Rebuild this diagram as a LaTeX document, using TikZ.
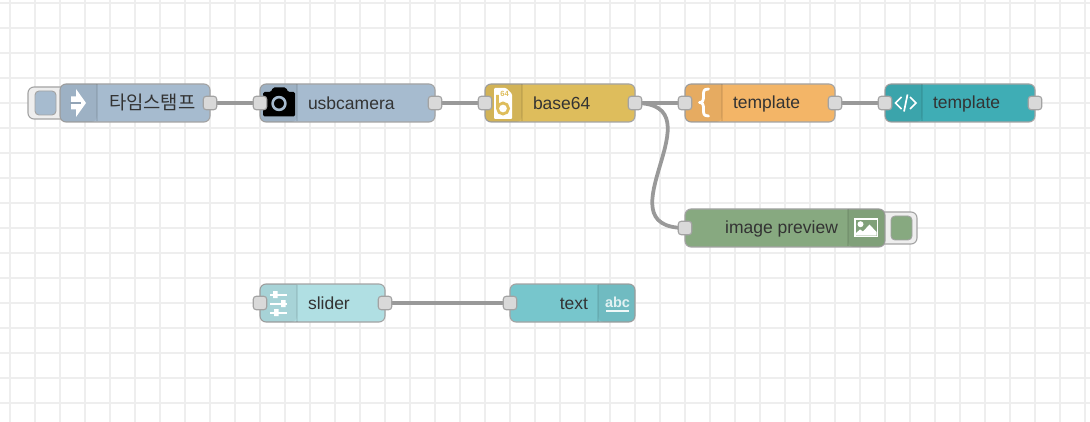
\documentclass[tikz,border=0pt]{standalone}
\usepackage{fontspec}
\setmainfont{Liberation Sans}
\newfontfamily\krfont{Noto Sans CJK KR}
\definecolor{gridc}{HTML}{EEEEEE}
\definecolor{edgec}{HTML}{A3A3A3}
\definecolor{wirec}{HTML}{999999}
\definecolor{portc}{HTML}{D9D9D9}
\definecolor{txtc}{HTML}{333333}
\definecolor{cinject}{HTML}{A6BBCF}
\definecolor{cbase}{HTML}{DEBD5C}
\definecolor{ctempl}{HTML}{F3B567}
\definecolor{cdash}{HTML}{3FADB5}
\definecolor{cimg}{HTML}{87A980}
\definecolor{cslider}{HTML}{B0DFE3}
\definecolor{ctext}{HTML}{77C6CC}
\pgfdeclarelayer{gridlayer}
\pgfdeclarelayer{wirelayer}
\pgfsetlayers{gridlayer,wirelayer,main}
\tikzset{
  x=1pt,y=-1pt,
  flowbox/.style={rectangle,draw=edgec,line width=1.1pt,rounded corners=6pt,minimum height=38pt,inner sep=0pt,outer sep=0pt},
  portbox/.style={rectangle,draw=edgec,fill=portc,line width=1.1pt,rounded corners=3pt,minimum size=13.5pt,inner sep=0pt,outer sep=0pt},
  wireline/.style={draw=wirec,line width=3.75pt},
  flowtext/.style={text=txtc,font=\fontsize{17.5}{20}\selectfont,inner sep=0pt,outer sep=0pt},
  btnbox/.style={rectangle,draw=edgec,fill=gridc,line width=1.1pt,rounded corners=6pt,inner sep=0pt,minimum height=32pt,minimum width=36pt},
  btninner/.style={rectangle,draw=edgec,line width=.9pt,rounded corners=4pt,inner sep=0pt,minimum width=21pt,minimum height=24pt},
  tint/.style={fill=black,fill opacity=.05},
  divider/.style={draw=black,draw opacity=.08,line width=1.25pt},
  iconw/.style={draw=white,line width=2.8pt,line cap=round,line join=round}
}
\newcommand{\zoneL}[3]{% x0 x1 ycentre: icon zone at the left
  \fill[tint,rounded corners=6pt] (#2,#3-19) -- (#1,#3-19) -- (#1,#3+19) -- (#2,#3+19) [sharp corners] -- cycle;
  \draw[divider] (#2,#3-18.5) -- (#2,#3+18.5);}
\newcommand{\zoneR}[3]{% x0 x1 ycentre: icon zone at the right
  \fill[tint,rounded corners=6pt] (#1,#3-19) -- (#2,#3-19) -- (#2,#3+19) -- (#1,#3+19) [sharp corners] -- cycle;
  \draw[divider] (#1,#3-18.5) -- (#1,#3+18.5);}
\begin{document}
\begin{tikzpicture}
\useasboundingbox (0,0) rectangle (1090,422);
\begin{pgfonlayer}{gridlayer}
  \fill[white] (0,0) rectangle (1090,422);
  \foreach \gx in {10,35,...,1085} \draw[gridc,line width=1.6pt] (\gx,0) -- (\gx,422);
  \foreach \gy in {3,28,...,420} \draw[gridc,line width=1.6pt] (0,\gy) -- (1090,\gy);
\end{pgfonlayer}

% side buttons
\node[btnbox,minimum width=40pt] (injbtn) at (48,103) {};
\node[btninner,fill=cinject] (injinner) at (45.5,103) {};
\node[btnbox,minimum width=40pt] (imgbtn) at (897,228) {};
\node[btninner,fill=cimg] (imginner) at (901.5,228) {};

% flow nodes
\node[flowbox,fill=cinject,minimum width=150pt] (ts) at (135,103) {};
\zoneL{60}{97}{103}
\node[flowbox,fill=cinject,minimum width=175pt] (cam) at (347.5,103) {};
\zoneL{260}{297}{103}
\node[flowbox,fill=cbase,minimum width=150pt] (b64) at (560,103) {};
\zoneL{485}{522}{103}
\node[flowbox,fill=ctempl,minimum width=150pt] (tpl) at (760,103) {};
\zoneL{685}{722}{103}
\node[flowbox,fill=cdash,minimum width=150pt] (dash) at (960,103) {};
\zoneL{885}{922}{103}
\node[flowbox,fill=cimg,minimum width=200pt] (img) at (785,228) {};
\zoneR{848}{885}{228}
\node[flowbox,fill=cslider,minimum width=125pt] (sld) at (322.5,303) {};
\zoneL{260}{297}{303}
\node[flowbox,fill=ctext,minimum width=125pt] (txt) at (572.5,303) {};
\zoneR{598}{635}{303}

% labels
\node[flowtext,anchor=west] (tslabel) at (109,102.5) {\krfont\fontsize{18.8}{20}\selectfont 타임스탬프};
\node[flowtext,anchor=west] (camlabel) at (308,103.5) {usbcamera};
\node[flowtext,anchor=west] (b64label) at (533,103.5) {base64};
\node[flowtext,anchor=west] (tpllabel) at (733,103.5) {template};
\node[flowtext,anchor=west] (dashlabel) at (933,103.5) {template};
\node[flowtext,anchor=east] (imglabel) at (838,228.5) {image preview};
\node[flowtext,anchor=west] (sldlabel) at (308,303.5) {slider};
\node[flowtext,anchor=east] (txtlabel) at (588,303.5) {text};

% icons: inject
\fill[white] (71,96.5) -- (76,96.5) -- (76,89) -- (86,103) -- (76,117) -- (76,109.5) -- (71,109.5) -- cycle;
\fill[cinject!88!black] (70,101.8) rectangle (80.5,104.2);
% icons: camera
\fill[black,rounded corners=1.5pt] (263,92) -- (271,92) -- (273,87.5) -- (286,87.5) -- (288,92) -- (295,92) -- (295,116.5) -- (263,116.5) -- cycle;
\draw[cinject,line width=2.6pt] (279,103.5) circle (6.4pt);
% icons: base64
\fill[white,rounded corners=1pt] (494,88) -- (506,88) -- (512,94) -- (512,119) -- (494,119) -- cycle;
\draw[cbase,line width=2.8pt] (497.5,95) -- (497.5,108.5) arc[start angle=180,end angle=540,radius=5.5pt];
\node[text=cbase,font=\bfseries\fontsize{7.5}{8}\selectfont,inner sep=0pt] (b64icon) at (504.5,93.5) {64};
% icons: brace
\draw[iconw] (708.5,89) .. controls (703,89) and (703.5,92) .. (703.5,96) .. controls (703.5,100) and (703,102.5) .. (699.5,102.5) .. controls (703,102.5) and (703.5,105) .. (703.5,109) .. controls (703.5,113) and (703,116) .. (708.5,116);
% icons: html
\draw[white,line width=1.7pt,line join=miter] (901.5,97) -- (895.5,103) -- (901.5,109);
\draw[white,line width=1.7pt,line join=miter] (910,97) -- (916,103) -- (910,109);
\draw[white,line width=1.7pt] (907.5,94.5) -- (904,111.5);
% icons: image
\draw[white,line width=1.9pt] (855,219) rectangle (877.5,236.5);
\fill[white] (860.5,224.2) circle (3pt);
\fill[white] (856,235.6) -- (856,233) -- (860,229.5) -- (863,231.5) -- (869.5,224.5) -- (876.5,232) -- (876.5,235.6) -- cycle;
% icons: slider
\draw[white,line width=2pt] (270,294.5) -- (287,294.5) (270,303.5) -- (287,303.5) (270,312.5) -- (287,312.5);
\fill[white] (273,291) rectangle (277.5,298) (281,300) rectangle (285.5,307) (274,309) rectangle (278.5,316);
% icons: text
\node[text=white,text opacity=.8,font=\bfseries\fontsize{14.5}{15}\selectfont,inner sep=0pt] (abcicon) at (617.5,302) {abc};
\draw[white,draw opacity=.9,line width=2pt] (606,310.5) -- (629,310.5);

% ports
\node[portbox] (tsout) at (210,103) {};
\node[portbox] (camin) at (260,103) {};
\node[portbox] (camout) at (435,103) {};
\node[portbox] (b64in) at (485,103) {};
\node[portbox] (b64out) at (635,103) {};
\node[portbox] (tplin) at (685,103) {};
\node[portbox] (tplout) at (835,103) {};
\node[portbox] (dashin) at (885,103) {};
\node[portbox] (dashout) at (1035,103) {};
\node[portbox] (imgin) at (685,228) {};
\node[portbox] (sldin) at (260,303) {};
\node[portbox] (sldout) at (385,303) {};
\node[portbox] (txtin) at (510,303) {};

% wires
\begin{pgfonlayer}{wirelayer}
  \draw[wireline] (tsout.center) -- (camin.center);
  \draw[wireline] (camout.center) -- (b64in.center);
  \draw[wireline] (b64out.center) -- (tplin.center);
  \draw[wireline] (tplout.center) -- (dashin.center);
  \draw[wireline] (sldout.center) -- (txtin.center);
  \draw[wireline] (b64out.center) .. controls (722,103) and (598,228) .. (imgin.center);
\end{pgfonlayer}
\end{tikzpicture}
\end{document}
